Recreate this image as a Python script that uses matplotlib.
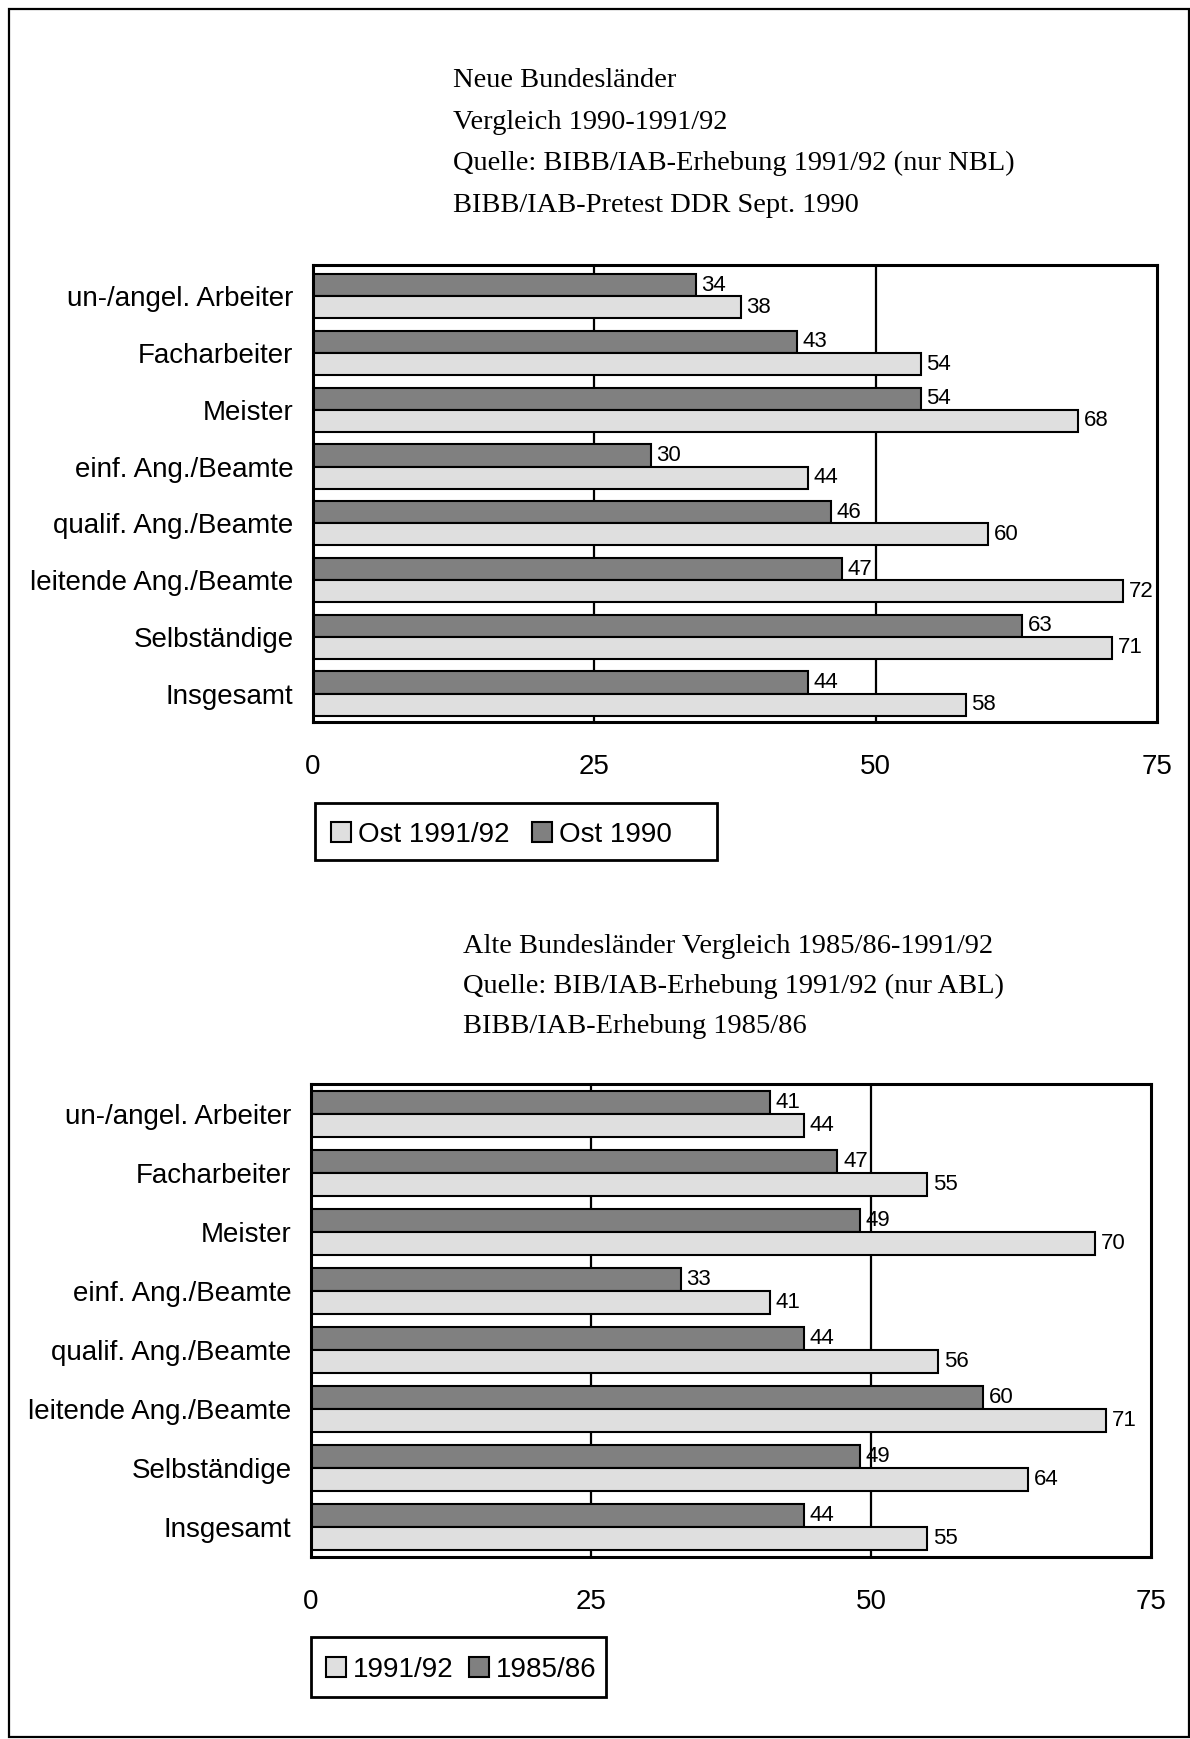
import matplotlib.pyplot as plt
import matplotlib.patches as mpatches
import numpy as np

plt.rcParams['font.family'] = ['Liberation Sans', 'DejaVu Sans']

categories = ["un-/angel. Arbeiter", "Facharbeiter", "Meister", "einf. Ang./Beamte",
              "qualif. Ang./Beamte", "leitende Ang./Beamte", "Selbständige", "Insgesamt"]

# Neue Bundeslaender
ost_1990 = [34, 43, 54, 30, 46, 47, 63, 44]
ost_9192 = [38, 54, 68, 44, 60, 72, 71, 58]

# Alte Bundeslaender
west_8586 = [41, 47, 49, 33, 44, 60, 49, 44]
west_9192 = [44, 55, 70, 41, 56, 71, 64, 55]

xticks = [0, 25, 50, 75]

title_top = ["Neue Bundesländer",
             "Vergleich 1990-1991/92",
             "Quelle: BIBB/IAB-Erhebung 1991/92 (nur NBL)",
             "BIBB/IAB-Pretest DDR Sept. 1990"]
title_bottom = ["Alte Bundesländer Vergleich 1985/86-1991/92",
                "Quelle: BIB/IAB-Erhebung 1991/92 (nur ABL)",
                "BIBB/IAB-Erhebung 1985/86"]

DARK = "#808080"
LIGHT = "#dfdfdf"
W, H = 1190, 1739

fig = plt.figure(figsize=(W / 100, H / 100), dpi=100)


def px_rect(left, top, right, bottom, lw):
    r = mpatches.Rectangle((left / W, 1 - bottom / H), (right - left) / W, (bottom - top) / H,
                           transform=fig.transFigure, fill=False,
                           edgecolor="black", linewidth=lw)
    fig.patches.append(r)


# page frame
px_rect(9, 9, 1189, 1737, 1.6)


def px_axes(left, top, right, bottom):
    return fig.add_axes([left / W, 1 - bottom / H, (right - left) / W, (bottom - top) / H])


def draw(ax, old, new, old_label, new_label, ylim_top):
    y = np.arange(len(categories))
    h = 0.39
    for v in (25, 50):
        ax.axvline(v, color="black", linewidth=1.6, zorder=1)
    b_old = ax.barh(y - h / 2, old, height=h, color=DARK, edgecolor="black",
                    linewidth=1.5, zorder=2, label=old_label)
    b_new = ax.barh(y + h / 2, new, height=h, color=LIGHT, edgecolor="black",
                    linewidth=1.5, zorder=2, label=new_label)
    for yy, v in zip(y, old):
        ax.text(v + 0.5, yy - h / 2, str(v), fontsize=16, va="center", ha="left", zorder=3)
    for yy, v in zip(y, new):
        ax.text(v + 0.5, yy + h / 2, str(v), fontsize=16, va="center", ha="left", zorder=3)
    ax.set_xlim(0, 75)
    ax.set_ylim(len(categories) - 0.5, ylim_top)
    ax.set_xticks(xticks)
    ax.set_xticklabels([str(t) for t in xticks], fontsize=20)
    ax.set_yticks(y)
    ax.set_yticklabels(categories, fontsize=20)
    ax.tick_params(axis="x", length=0, pad=23)
    ax.tick_params(axis="y", length=0, pad=14)
    for s in ax.spines.values():
        s.set_linewidth(2.2)
        s.set_color("black")
    return b_new, b_old


ax1 = px_axes(313, 265, 1157, 722)
n1, o1 = draw(ax1, ost_1990, ost_9192, "Ost 1990", "Ost 1991/92", -0.55)
ax2 = px_axes(311, 1084, 1151, 1557)
n2, o2 = draw(ax2, west_8586, west_9192, "1985/86", "1991/92", -0.5)

for i, line in enumerate(title_top):
    fig.text(453 / W, 1 - (87 + 41.7 * i) / H, line, fontsize=20.5,
             family="Liberation Serif", va="baseline", ha="left")
for i, line in enumerate(title_bottom):
    fig.text(463 / W, 1 - (953 + 40 * i) / H, line, fontsize=20.5,
             family="Liberation Serif", va="baseline", ha="left")

legend_kw = dict(loc="center left", ncol=2, fontsize=20, frameon=False,
                 borderaxespad=0, borderpad=0, handlelength=0.72,
                 handleheight=0.72, handletextpad=0.25)

# legend boxes
px_rect(315, 803, 717, 860, 2.0)
px_rect(311, 1637, 606, 1697, 2.0)
fig.legend([n1, o1], ["Ost 1991/92", "Ost 1990"], columnspacing=0.8,
           bbox_to_anchor=(331 / W, 1 - 835 / H), **legend_kw)
fig.legend([n2, o2], ["1991/92", "1985/86"], columnspacing=0.55,
           bbox_to_anchor=(326 / W, 1 - 1670 / H), **legend_kw)

fig.savefig("out.png", dpi=100)
